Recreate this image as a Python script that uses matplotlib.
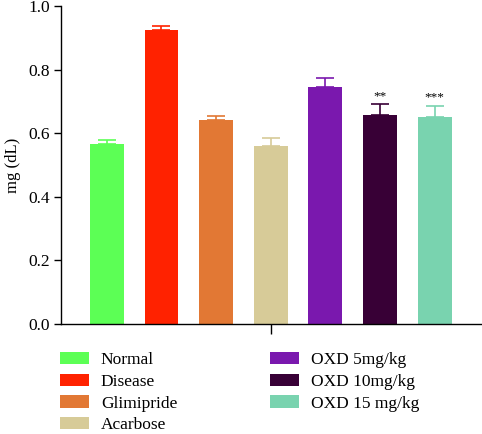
import numpy as np
import matplotlib
matplotlib.use("Agg")
import matplotlib.pyplot as plt
from matplotlib.patches import Patch

groups = ["Normal", "Disease", "Glimipride", "Acarbose", "OXD 5mg/kg", "OXD 10mg/kg", "OXD 15 mg/kg"]
means = [0.566, 0.923, 0.640, 0.559, 0.745, 0.658, 0.651]
sem = [0.012, 0.015, 0.013, 0.025, 0.028, 0.033, 0.036]
colors = ["#5cff55", "#ff2200", "#e27834", "#d7cb98", "#7a18ae", "#380036", "#79d3af"]
stars = ["", "", "", "", "", "**", "***"]

plt.rcParams['font.family'] = ['Liberation Serif', 'DejaVu Serif']

fig = plt.figure(figsize=(4.82, 4.34), dpi=100)
ax = fig.add_axes([61/482, 1 - 324/434, 420/482, 318/434])

x = np.arange(len(groups))
ax.bar(x, means, width=0.62, color=colors, linewidth=0, zorder=2)
for i in range(len(groups)):
    ax.errorbar(x[i], means[i], yerr=[[0], [sem[i]]], fmt='none', ecolor=colors[i],
                elinewidth=1.2, capsize=6.8, capthick=1.2, zorder=3)
    if stars[i]:
        ax.text(x[i], means[i] + sem[i] + 0.006, stars[i], ha='center', va='bottom', fontsize=9.5)

ax.set_xlim(-0.84, 6.85)
ax.set_ylim(0, 1.0)
ax.set_yticks([0.0, 0.2, 0.4, 0.6, 0.8, 1.0])
ax.set_yticklabels(["0.0", "0.2", "0.4", "0.6", "0.8", "1.0"], fontsize=12.5)
ax.set_xticks([3])
ax.set_xticklabels([""])
ax.tick_params(axis='x', length=7, width=1)
ax.tick_params(axis='y', length=5, width=1, pad=3)
ax.set_ylabel("mg (dL)", fontsize=12, labelpad=5)
for s in ["top", "right"]:
    ax.spines[s].set_visible(False)
for s in ["left", "bottom"]:
    ax.spines[s].set_linewidth(1)

handles = [Patch(facecolor=c, edgecolor='none') for c in colors]
kw = dict(frameon=False, fontsize=12.5, handlelength=1.65, handleheight=0.7,
          handletextpad=0.7, labelspacing=0.32, borderpad=0, borderaxespad=0)
fig.legend(handles[:4], groups[:4], loc='upper left', bbox_to_anchor=(60/482, 1 - 352/434), **kw)
fig.legend(handles[4:], groups[4:], loc='upper left', bbox_to_anchor=(270/482, 1 - 352/434), **kw)

fig.savefig("out.png", dpi=100)
